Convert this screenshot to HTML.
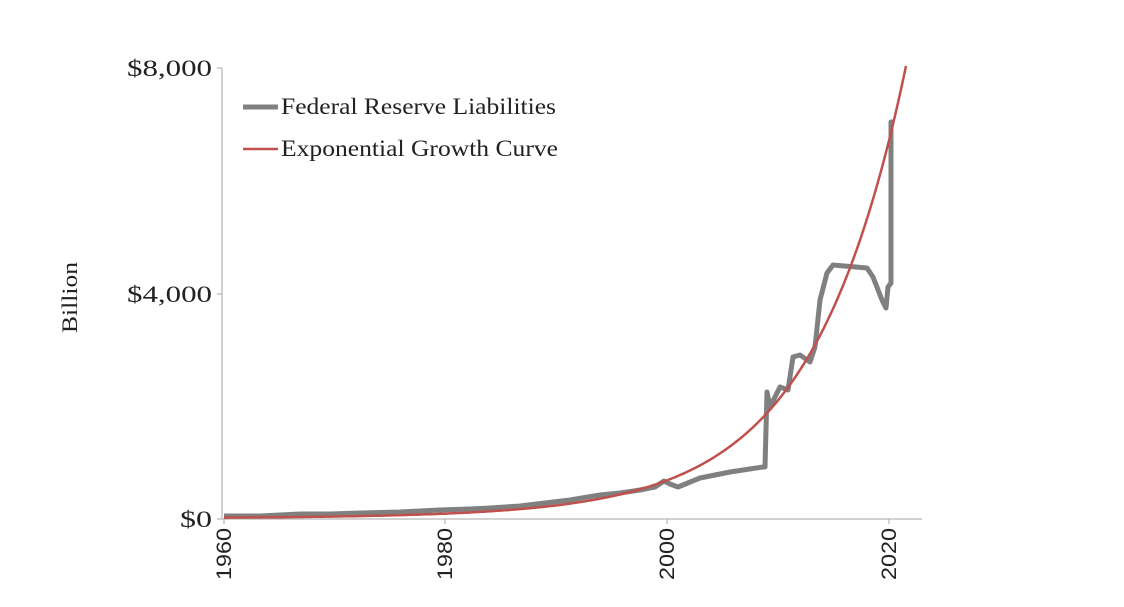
<!DOCTYPE html>
<html><head><style>
body{margin:0;background:#fff;}
svg{display:block;font-family:"Liberation Serif",serif;}
</style></head><body>
<svg width="1124" height="607" xmlns="http://www.w3.org/2000/svg">
<line x1="222" y1="68" x2="222" y2="519" stroke="#a6a6a6" stroke-width="1"/>
<line x1="222" y1="519" x2="922" y2="519" stroke="#a6a6a6" stroke-width="1"/>
<g stroke="#a6a6a6"><line x1="217" y1="68" x2="222" y2="68"/><line x1="217" y1="294" x2="222" y2="294"/><line x1="217" y1="519" x2="222" y2="519"/>
<line x1="224" y1="519" x2="224" y2="524"/><line x1="445" y1="519" x2="445" y2="524"/><line x1="667" y1="519" x2="667" y2="524"/><line x1="889" y1="519" x2="889" y2="524"/></g>
<g font-size="23" fill="#222" text-anchor="end">
<text x="212" y="76" textLength="85" lengthAdjust="spacingAndGlyphs">$8,000</text><text x="212" y="302" textLength="85" lengthAdjust="spacingAndGlyphs">$4,000</text><text x="212" y="527" textLength="32" lengthAdjust="spacingAndGlyphs">$0</text></g>
<g font-family="Liberation Sans, sans-serif" font-size="21" fill="#222" text-anchor="end">
<text transform="translate(231,528) rotate(-90)" textLength="52" lengthAdjust="spacingAndGlyphs">1960</text>
<text transform="translate(452,528) rotate(-90)" textLength="52" lengthAdjust="spacingAndGlyphs">1980</text>
<text transform="translate(674,528) rotate(-90)" textLength="52" lengthAdjust="spacingAndGlyphs">2000</text>
<text transform="translate(896,528) rotate(-90)" textLength="52" lengthAdjust="spacingAndGlyphs">2020</text></g>
<text transform="translate(77,333) rotate(-90)" font-size="22" fill="#222" textLength="71" lengthAdjust="spacingAndGlyphs">Billion</text>
<polyline fill="none" stroke="#808080" stroke-width="5" stroke-linejoin="round" points="224,516 260,516 280,515 300,514 330,514 360,513 400,512 440,510 470,509 490,508 520,506 545,503 570,500 600,495 620,493 640,490 655,487 664,481 670,484 678,487 700,478 730,472 763,467 765,467 767,392 770,407 780,387 788,390 793,357 800,355 810,362 815,347 820,300 827,273 833,265 867,268 873,277 882,300 886,308 888,287 891,283 891,122 893,122"/>
<polyline id="red" fill="none" stroke="#c0504d" stroke-width="2.5" points="224,517 907,68"/>
<script>
var pts=[];for(var x=224;x<=907;x+=2){var v=8000*Math.exp(-0.0107*(907-x))+20+100*Math.pow((x-224)/683,1.5);var y=519-v/8000*451;pts.push(x+','+y.toFixed(1));}
document.getElementById('red').setAttribute('points',pts.join(' '));
</script>
<line x1="243" y1="107" x2="278" y2="107" stroke="#808080" stroke-width="5"/>
<line x1="243" y1="149" x2="278" y2="149" stroke="#c0504d" stroke-width="2.5"/>
<g font-size="23" fill="#222"><text x="281" y="114" textLength="275" lengthAdjust="spacingAndGlyphs">Federal Reserve Liabilities</text><text x="281" y="156" textLength="277" lengthAdjust="spacingAndGlyphs">Exponential Growth Curve</text></g>
</svg>
</body></html>
